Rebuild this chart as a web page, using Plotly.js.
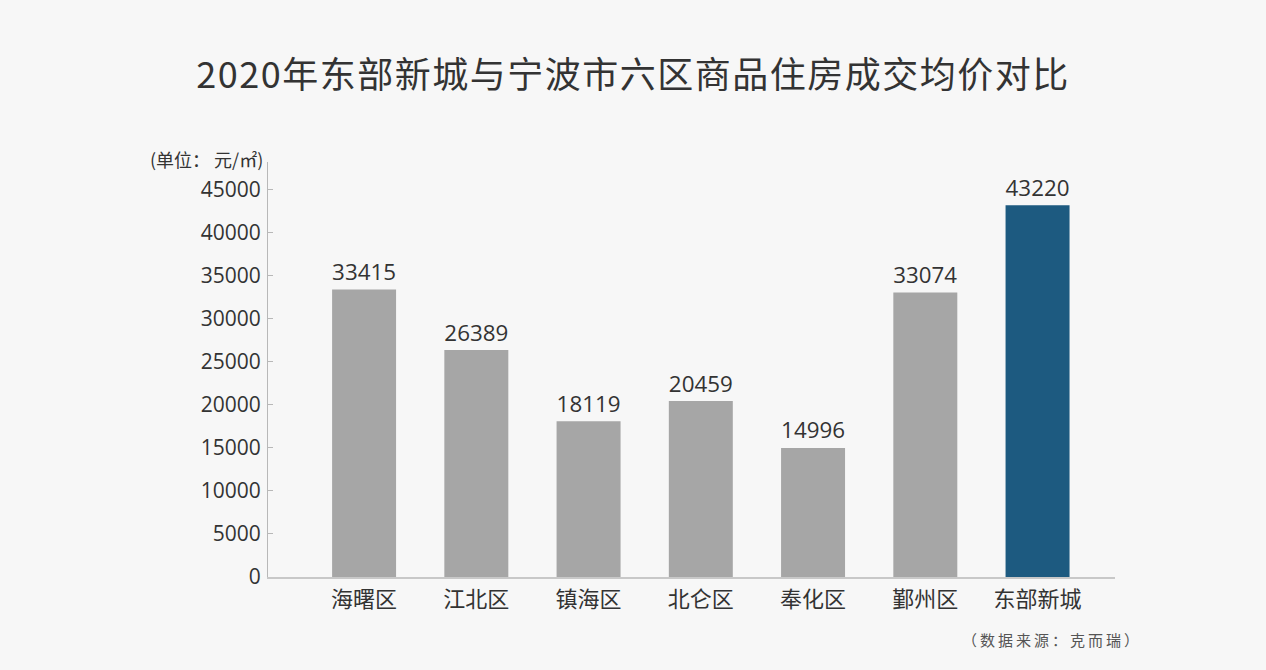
<!DOCTYPE html>
<html><head><meta charset="utf-8">
<script src="https://cdn.plot.ly/plotly-3.0.1.min.js"></script>
<style>html,body{margin:0;padding:0;background:#f7f7f7;}#chart{width:1266px;height:670px;}
.gtitle{letter-spacing:1.5px;}
.src-note .annotation-text{letter-spacing:3px;}
</style>
</head><body><div id="chart"></div>
<script>
const categories = ["海曙区","江北区","镇海区","北仑区","奉化区","鄞州区","东部新城"];
const prices = [33415, 26389, 18119, 20459, 14996, 33074, 43220];
const barColors = ["#a6a6a6","#a6a6a6","#a6a6a6","#a6a6a6","#a6a6a6","#a6a6a6","#1d5a80"];
const yTicks = [0,5000,10000,15000,20000,25000,30000,35000,40000,45000];

const numFont = "'Open Sans', 'Noto Sans', sans-serif";
const cjkFont = "'Noto Sans CJK SC', 'Noto Sans', sans-serif";

Plotly.newPlot('chart', [{
  type: 'bar',
  x: categories.map((c,i)=>i),
  y: prices,
  marker: {color: barColors},
  text: prices.map(String),
  textposition: 'outside',
  cliponaxis: false,
  textfont: {family: numFont, size: 24, color: '#333'},
  hoverinfo: 'skip'
}], {
  width: 1266, height: 670,
  paper_bgcolor: '#f7f7f7', plot_bgcolor: '#f7f7f7',
  margin: {l: 268, r: 151, t: 162, b: 93},
  bargap: 0.43,
  showlegend: false,
  title: {text: '2020年东部新城与宁波市六区商品住房成交均价对比', x: 0.5, xanchor: 'center', y: 0.888, yanchor: 'middle',
    font: {family: cjkFont, size: 36, color: '#333'}},
  xaxis: {
    range: [-0.856, 6.69],
    tickmode: 'array', tickvals: categories.map((c,i)=>i), ticktext: categories,
    showgrid: false, zeroline: false, showline: true, linecolor: '#c8c8c8', linewidth: 1.5,
    ticks: '', tickfont: {family: cjkFont, size: 22, color: '#333'}, ticklabelstandoff: 2
  },
  yaxis: {
    range: [0, 48250],
    tickmode: 'array', tickvals: yTicks, ticktext: yTicks.map(String),
    showgrid: false, zeroline: false, showline: true, linecolor: '#b8b8b8', linewidth: 1,
    ticks: 'inside', ticklen: 5, tickcolor: '#b8b8b8',
    tickfont: {family: numFont, size: 21, color: '#333'}, ticklabelstandoff: 2
  },
  annotations: [
    {text: '(单位： 元/㎡)', xref: 'paper', yref: 'paper', x: -0.003, y: 1.0, xanchor: 'right', yanchor: 'bottom',
     yshift: -12, showarrow: false, font: {family: cjkFont, size: 18, color: '#333'}},
    {text: '（数据来源：克而瑞）', xref: 'paper', yref: 'paper', x: 1.017, y: 0, xanchor: 'right', yanchor: 'top',
     yshift: -50, showarrow: false, font: {family: cjkFont, size: 15, color: '#555'}}
  ]
}, {displayModeBar: false, staticPlot: true}).then(gd => {
  const notes = gd.querySelectorAll('.annotation');
  if (notes.length > 1) notes[1].classList.add('src-note');
});
</script></body></html>
